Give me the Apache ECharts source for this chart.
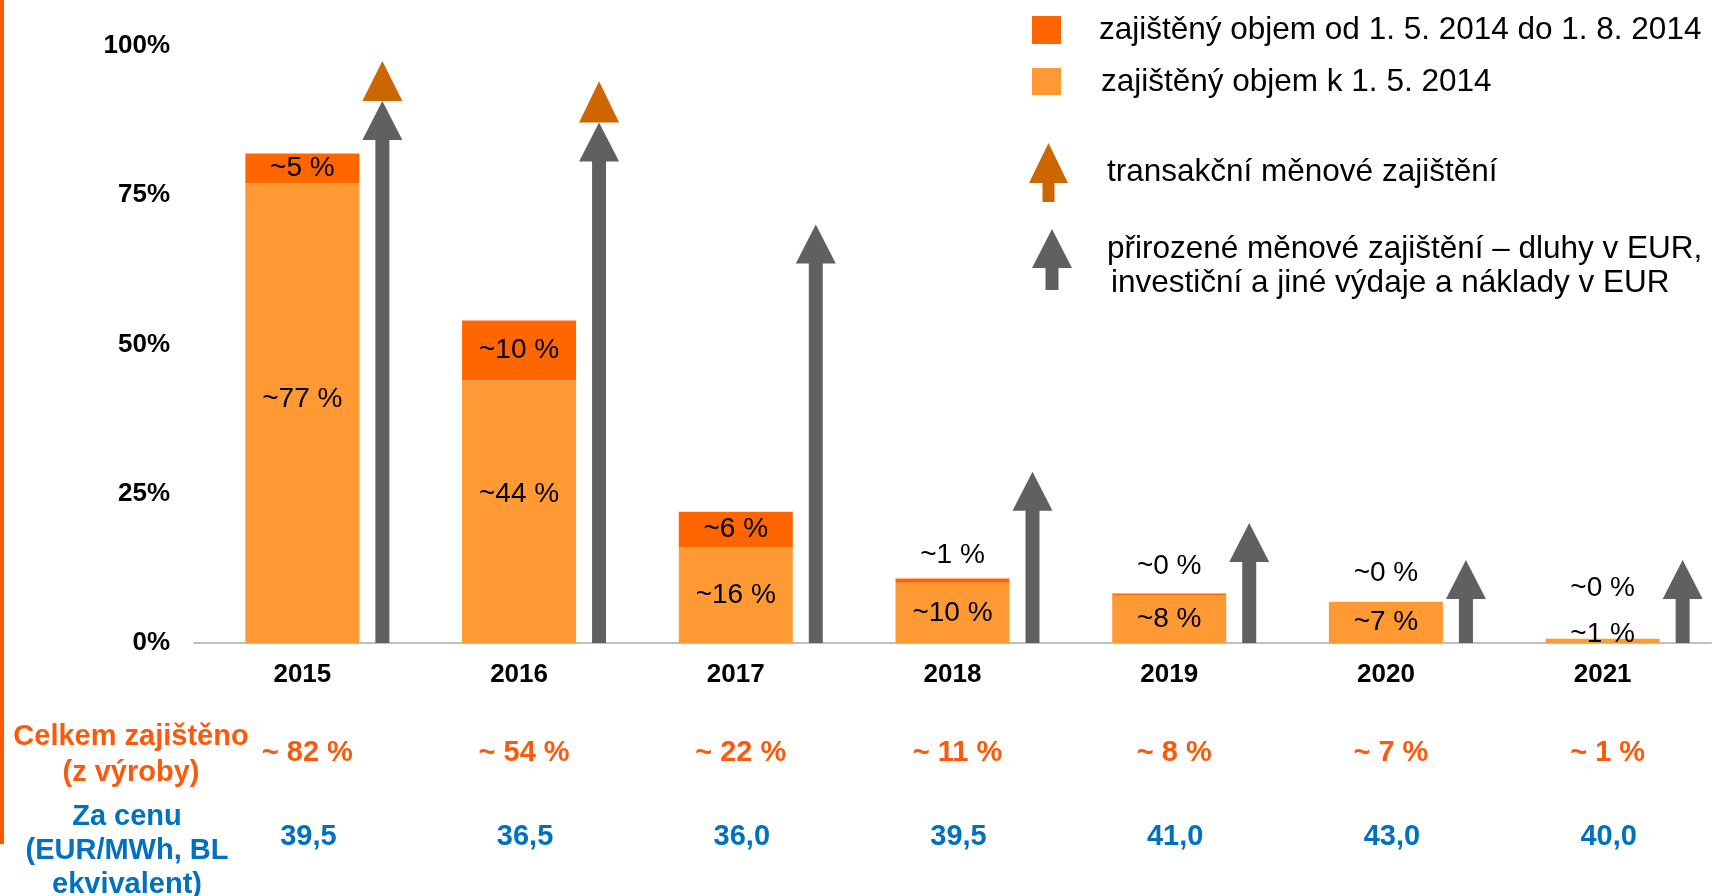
<!DOCTYPE html>
<html>
<head>
<meta charset="utf-8">
<title>zajištění</title>
<script src="https://cdn.jsdelivr.net/npm/echarts@6/dist/echarts.min.js"></script>
<style>
	html, body { margin: 0; padding: 0; background: #fff; }
	#chart { width: 1715px; height: 896px; }
</style>
</head>
<body>
<div id="chart"></div>
<script>
var years = ['2015', '2016', '2017', '2018', '2019', '2020', '2021'];
// zajištěný objem k 1. 5. 2014
var hedgedBefore = [77, 44, 16, 10.1, 8, 6.9, 0.7];
// zajištěný objem od 1. 5. 2014 do 1. 8. 2014
var hedgedAdded = [5, 10, 6, 0.7, 0.3, 0, 0];
// přirozené měnové zajištění (šedé šipky)
var naturalHedge = [90.8, 87.2, 70.1, 28.7, 20.1, 13.9, 13.9];
// transakční měnové zajištění (oranžové trojúhelníky nad šedou šipkou)
var transactionHedge = [6.7, 6.9, 0, 0, 0, 0, 0];
var totalHedged = [82, 54, 22, 11, 8, 7, 1];
var prices = [39.5, 36.5, 36.0, 39.5, 41.0, 43.0, 40.0];

var FONT = '"Liberation Sans", Arial, sans-serif';
var ARROW_DX = 80, SHAFT = 14, HEAD_W = 40, HEAD_H = 39;

// posuny popisků (jen vzhled)
var beforeShift = [-14, -17, 0, 0, 0, 0, -7];
var addedPos = ['inside', 'inside', 'inside', 'top', 'top', 'top', 'top'];
var addedShift = [0, 0, 0, -4, -8, -10, -32];

function pct(v) { return '~' + Math.round(v) + ' %'; }

function grayArrow(params, api) {
	var i = api.value(0);
	var p0 = api.coord([i, 0]);
	var p1 = api.coord([i, api.value(1)]);
	var x = p0[0] + ARROW_DX;
	var hb = p1[1] + HEAD_H;
	return {
		type: 'polygon',
		shape: { points: [
			[x - SHAFT / 2, p0[1]], [x - SHAFT / 2, hb], [x - HEAD_W / 2, hb], [x, p1[1]],
			[x + HEAD_W / 2, hb], [x + SHAFT / 2, hb], [x + SHAFT / 2, p0[1]]
		] },
		style: { fill: '#606060' }
	};
}

function orangeHead(params, api) {
	if (!api.value(2)) return;
	var i = api.value(0);
	var b = api.coord([i, api.value(1)]);
	var t = api.coord([i, api.value(1) + api.value(2)]);
	var x = b[0] + ARROW_DX;
	return {
		type: 'polygon',
		shape: { points: [[x - HEAD_W / 2, b[1]], [x, t[1]], [x + HEAD_W / 2, b[1]]] },
		style: { fill: '#CC6600' }
	};
}

function legendArrow(x, tip, base, bottom, hw, sw, color) {
	return {
		type: 'polygon',
		shape: { points: [
			[x - sw / 2, bottom], [x - sw / 2, base], [x - hw / 2, base], [x, tip],
			[x + hw / 2, base], [x + sw / 2, base], [x + sw / 2, bottom]
		] },
		style: { fill: color }
	};
}

function txt(text, x, y, size, color, weight, align, lh) {
	return {
		type: 'text', x: x, y: y,
		style: {
			text: text, fill: color, fontSize: size, fontWeight: weight || 'normal',
			fontFamily: FONT, align: align || 'left', verticalAlign: 'middle', lineHeight: lh || size
		}
	};
}

var chart = echarts.init(document.getElementById('chart'));
var option = {
	animation: false,
	backgroundColor: '#fff',
	grid: { left: 194, right: 4, top: 46, bottom: 253 },
	xAxis: [
		{
			type: 'category',
			data: years,
			axisLine: { lineStyle: { color: '#BFBFBF', width: 2 } },
			axisTick: { show: false },
			axisLabel: { margin: 19, fontSize: 26, fontWeight: 'bold', color: '#000', fontFamily: FONT }
		},
		{
			type: 'category',
			data: totalHedged.map(function (v) { return '~ ' + v + ' %'; }),
			position: 'bottom',
			offset: 95,
			axisLine: { show: false },
			axisTick: { show: false },
			axisLabel: { margin: 0, fontSize: 29, fontWeight: 'bold', color: '#F95A0E', fontFamily: FONT, padding: [0, 0, 0, 10] }
		},
		{
			type: 'category',
			data: prices.map(function (v) { return v.toFixed(1).replace('.', ','); }),
			position: 'bottom',
			offset: 179,
			axisLine: { show: false },
			axisTick: { show: false },
			axisLabel: { margin: 0, fontSize: 29, fontWeight: 'bold', color: '#0070C0', fontFamily: FONT, padding: [0, 0, 0, 12] }
		}
	],
	yAxis: {
		type: 'value',
		min: 0,
		max: 100,
		interval: 25,
		splitLine: { show: false },
		axisLine: { show: false },
		axisTick: { show: false },
		axisLabel: { formatter: '{value}%', margin: 24, fontSize: 26, fontWeight: 'bold', color: '#000', fontFamily: FONT }
	},
	series: [
		{
			name: 'zajištěný objem k 1. 5. 2014',
			type: 'bar',
			stack: 'objem',
			barWidth: 114,
			itemStyle: { color: '#FF9933' },
			data: hedgedBefore.map(function (v, i) {
				return { value: v, label: { offset: [0, beforeShift[i]] } };
			}),
			label: {
				show: true, position: 'inside', color: '#000', fontSize: 28, fontFamily: FONT,
				formatter: function (p) { return pct(p.value); }
			}
		},
		{
			name: 'zajištěný objem od 1. 5. 2014 do 1. 8. 2014',
			type: 'bar',
			stack: 'objem',
			barWidth: 114,
			itemStyle: { color: '#FF6600' },
			data: hedgedAdded.map(function (v, i) {
				return { value: v, label: { position: addedPos[i], offset: [0, addedShift[i]] } };
			}),
			label: {
				show: true, color: '#000', fontSize: 28, fontFamily: FONT,
				formatter: function (p) { return pct(p.value); }
			}
		},
		{
			name: 'přirozené měnové zajištění',
			type: 'custom',
			renderItem: grayArrow,
			encode: { x: 0, y: 1 },
			data: naturalHedge.map(function (v, i) { return [i, v]; }),
			z: 3
		},
		{
			name: 'transakční měnové zajištění',
			type: 'custom',
			renderItem: orangeHead,
			encode: { x: 0, y: 1 },
			data: naturalHedge.map(function (v, i) { return [i, v, transactionHedge[i]]; }),
			z: 3
		}
	],
	graphic: [
		{ type: 'rect', shape: { x: 0, y: 0, width: 4, height: 844 }, style: { fill: '#FF5A00' } },
		{ type: 'rect', shape: { x: 1032, y: 16, width: 29, height: 28 }, style: { fill: '#FF6600' } },
		txt('zajištěný objem od 1. 5. 2014 do 1. 8. 2014', 1099, 30, 31.5, '#000'),
		{ type: 'rect', shape: { x: 1032, y: 68, width: 29, height: 27 }, style: { fill: '#FF9933' } },
		txt('zajištěný objem k 1. 5. 2014', 1101, 82, 31.5, '#000'),
		legendArrow(1048.5, 143, 183, 202, 39, 12, '#CC6600'),
		txt('transakční měnové zajištění', 1107, 172, 31.5, '#000'),
		legendArrow(1052, 229, 268, 290, 40, 13, '#606060'),
		txt('přirozené měnové zajištění – dluhy v EUR,', 1107, 249, 31.5, '#000'),
		txt('investiční a jiné výdaje a náklady v EUR', 1111, 283, 31.5, '#000'),
		txt('Celkem zajištěno\n(z výroby)', 131, 755, 29, '#F95A0E', 'bold', 'center', 36),
		txt('Za cenu\n(EUR/MWh, BL\nekvivalent)', 127, 851, 29, '#0070C0', 'bold', 'center', 34)
	]
};
chart.setOption(option);
</script>
</body>
</html>
